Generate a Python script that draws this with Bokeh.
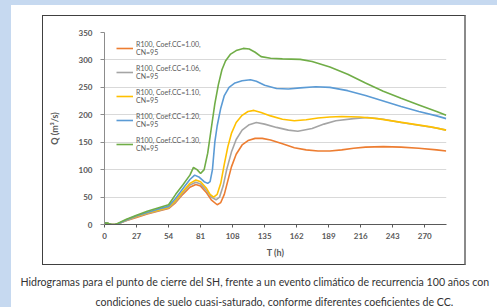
from bokeh.plotting import figure
from bokeh.models import Range1d, FixedTicker, Legend, LegendItem, Title, InlineStyleSheet
from bokeh.embed import file_html
from bokeh.resources import INLINE

# ---- data ----
t_orange = [0, 3, 6, 9, 12, 18, 27, 36, 45, 54, 60, 66, 72, 77, 81, 86, 90, 95, 98, 101, 104, 107, 111, 116,
            121, 127, 133, 140, 150, 160, 170, 180, 190, 200, 210, 220, 235, 250, 265, 280, 288]
q_orange = [3, 2, 0, 0, 2, 7, 13, 19, 24, 29, 40, 55, 68, 73, 70, 58, 45, 36, 40, 55, 80, 105, 128, 145,
            153, 157, 157, 154, 147, 140, 136, 134, 134, 136, 139, 141, 142, 141, 139, 136, 134]

t_gray = [0, 3, 6, 9, 12, 18, 27, 36, 45, 54, 60, 66, 72, 77, 81, 86, 90, 94, 97, 100, 103, 107, 111, 116,
          122, 128, 135, 145, 155, 163, 175, 185, 195, 210, 222, 235, 250, 265, 280, 288]
q_gray = [3, 2, 0, 0, 2, 7, 14, 20, 25, 30, 42, 58, 72, 77, 74, 62, 50, 45, 50, 70, 100, 132, 155, 172,
          182, 186, 183, 177, 172, 170, 175, 183, 189, 193, 195, 192, 186, 181, 176, 172]

t_yellow = [0, 3, 6, 9, 12, 18, 27, 36, 45, 54, 60, 66, 72, 77, 81, 86, 89, 92, 95, 98, 101, 104, 107, 111,
            116, 121, 126, 132, 140, 150, 160, 170, 180, 190, 200, 215, 230, 245, 260, 275, 288]
q_yellow = [3, 2, 0, 0, 2, 8, 15, 21, 26, 31, 44, 60, 75, 81, 78, 66, 55, 50, 55, 75, 110, 142, 166, 186,
            199, 206, 208, 204, 198, 192, 189, 191, 194, 196, 197, 196, 193, 188, 183, 178, 172]

t_blue = [0, 3, 6, 9, 12, 18, 27, 36, 45, 54, 60, 66, 72, 76, 80, 84, 87, 89, 91, 93, 95, 98, 101, 105, 110,
          116, 123, 128, 135, 145, 155, 165, 178, 190, 205, 220, 235, 250, 265, 280, 288]
q_blue = [3, 2, 0, 0, 2, 8, 16, 22, 28, 33, 48, 65, 82, 90, 86, 78, 75, 78, 100, 150, 180, 212, 235, 250, 258,
          262, 264, 261, 254, 248, 247, 249, 251, 250, 244, 235, 225, 215, 206, 198, 193]

t_green = [0, 3, 6, 9, 12, 18, 27, 36, 45, 54, 60, 66, 72, 75, 78, 81, 84, 87, 90, 93, 96, 99, 102, 106, 111,
           117, 122, 127, 132, 140, 150, 165, 175, 190, 205, 220, 235, 250, 265, 280, 288]
q_green = [3, 2, 0, 0, 3, 9, 17, 24, 30, 36, 55, 72, 90, 104, 100, 93, 100, 130, 175, 220, 255, 282, 298, 310, 317,
           321, 320, 314, 306, 303, 302, 301, 297, 287, 274, 258, 243, 230, 218, 206, 199]

labels = ["R100, Coef.CC=1.00,\nCN=95", "R100, Coef.CC=1.06,\nCN=95", "R100, Coef.CC=1.10,\nCN=95",
          "R100, Coef.CC=1.20,\nCN=95", "R100, Coef.CC=1.30,\nCN=95"]
colors = ["#ED7D31", "#A5A5A5", "#FFC000", "#5B9BD5", "#70AD47"]
x_ticks = [0, 27, 54, 81, 108, 135, 162, 189, 216, 243, 270]
y_ticks = [0, 50, 100, 150, 200, 250, 300, 350]
caption1 = "Hidrogramas para el punto de cierre del SH, frente a un evento climático de recurrencia 100 años con"
caption2 = "condiciones de suelo cuasi-saturado, conforme diferentes coeficientes de CC."

FONT = "Lato"
W, H = 497, 307
frame_css = InlineStyleSheet(css="""
:host { position: relative; }
:host::before { content: ""; position: absolute; left: 0; top: 0; width: 100%; height: 100%;
  box-sizing: border-box; border-top: 5px solid #C6D9F0; border-left: 11px solid #C6D9F0;
  pointer-events: none; z-index: 5; }
:host::after { content: ""; position: absolute; left: 42px; top: 15px; width: 424px; height: 250px;
  box-sizing: border-box; border: 1px solid #404040; border-right: 2px solid #8a8a8a;
  pointer-events: none; z-index: 6; }
""")

p = figure(width=W, height=H, output_backend="svg", toolbar_location=None,
           x_range=Range1d(0, 288.3), y_range=Range1d(0, 350),
           min_border_left=104, min_border_right=51, min_border_top=32, min_border_bottom=83)
p.stylesheets = [frame_css]
p.outline_line_color = None
p.background_fill_color = "white"
p.border_fill_color = "white"

p.xgrid.visible = False
p.ygrid.grid_line_color = "#D9D9D9"
p.ygrid.grid_line_width = 1

p.xaxis.ticker = FixedTicker(ticks=x_ticks)
p.yaxis.ticker = FixedTicker(ticks=y_ticks)
for ax in (p.xaxis[0], p.yaxis[0]):
    ax.major_tick_in = 0
    ax.minor_tick_line_color = None
    ax.major_label_text_font = FONT
    ax.major_label_text_font_size = "8px"
    ax.major_label_text_font_style = "bold"
    ax.major_label_text_color = "#595959"
    ax.axis_label_text_font = FONT
    ax.axis_label_text_font_size = "9px"
    ax.axis_label_text_font_style = "bold"
    ax.axis_label_text_color = "#595959"
p.xaxis.major_tick_out = 3
p.yaxis.major_tick_out = 4
p.xaxis.axis_line_color = "#595959"
p.xaxis.major_tick_line_color = "#595959"
p.yaxis.axis_line_color = "#8C8C8C"
p.yaxis.major_tick_line_color = "#8C8C8C"
p.xaxis.major_label_standoff = 5
p.yaxis.major_label_standoff = 8
p.xaxis.axis_label = "T (h)"
p.yaxis.axis_label = "Q (m³/s)"
p.xaxis.axis_label_standoff = 5
p.yaxis.axis_label_standoff = 16

series = [(t_orange, q_orange), (t_gray, q_gray), (t_yellow, q_yellow), (t_blue, q_blue), (t_green, q_green)]
items = []
for (tt, qq), c, lab in zip(series, colors, labels):
    r = p.line(tt, qq, line_color=c, line_width=1.6)
    items.append(LegendItem(label=lab, renderers=[r]))

legend = Legend(items=items, location=(12, 72))
legend.background_fill_alpha = 0
legend.border_line_color = None
legend.label_text_font = FONT
legend.label_text_font_size = "7px"
legend.label_text_color = "#595959"
legend.glyph_width = 17
legend.glyph_height = 10
legend.label_standoff = 3
legend.spacing = 8
legend.padding = 0
legend.margin = 0
p.add_layout(legend)

p.add_layout(Title(text=caption1, align="left", offset=-84, standoff=27, vertical_align="bottom",
                   text_font=FONT, text_font_size="10.6px", text_font_style="normal",
                   text_color="#333333"), "below")
p.add_layout(Title(text=caption2, align="left", offset=-9, standoff=-14, vertical_align="middle",
                   text_font=FONT, text_font_size="10.6px", text_font_style="normal",
                   text_color="#333333"), "below")

open("out.html", "w").write(file_html(p, INLINE))
